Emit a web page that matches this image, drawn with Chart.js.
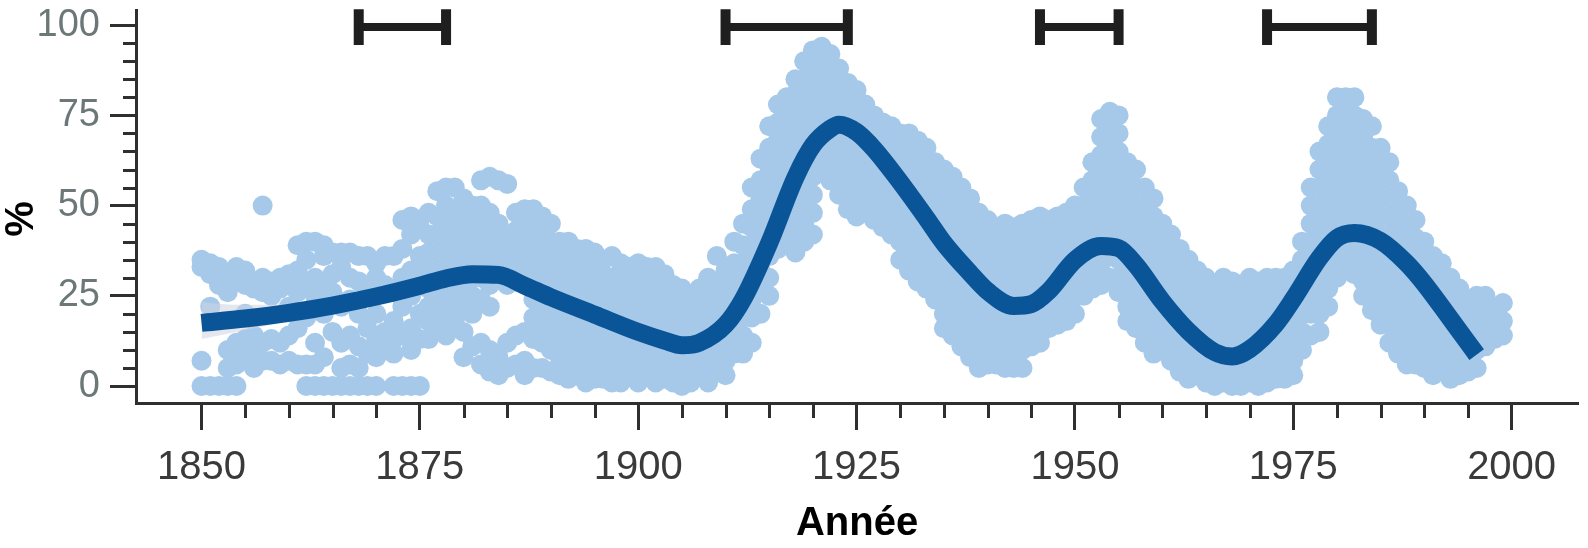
<!DOCTYPE html>
<html><head><meta charset="utf-8">
<script src="https://cdn.jsdelivr.net/npm/chart.js@4.4.1/dist/chart.umd.min.js"></script>
<style>html,body{margin:0;padding:0;background:#fff;}#wrap{width:1588px;height:548px;}</style>
</head><body><div id="wrap"><canvas id="c" width="1588" height="548"></canvas></div>
<script>
// ---- data ----
const xMajorTicks = [1850, 1875, 1900, 1925, 1950, 1975, 2000];
const yMajorTicks = [0, 25, 50, 75, 100];
const minorStep = 5;
const xTitle = 'Année';
const yTitle = '%';

const trendYears = [1850,1855,1860,1865,1870,1875,1878,1881,1884,1887,1890,1895,1900,1903,1905,1907,1910,1912,1915,1918,1920,1922,1923,1925,1927,1930,1933,1935,1938,1940,1943,1945,1947,1950,1953,1955,1957,1960,1963,1966,1968,1970,1973,1975,1978,1980,1982,1985,1988,1990,1993,1996];
const trendValues = [17.5,18.7,20.3,22.3,24.8,27.8,29.8,31,30.8,27.8,24.6,19.8,15,12.6,11.3,12,17,24,39.6,57.8,66.7,71.3,72.4,70.4,65.7,56.5,46.5,39.6,31.3,26.3,22.2,22.7,26.3,34.9,38.8,38.2,33.5,23.5,15.2,9.4,8.2,10.2,17.2,24.1,35.5,41,42.4,40.2,34,28.4,18.6,8.7];

const bandYears = [1850, 1852, 1854, 1857, 1860, 1863];
const bandLow = [13, 14, 15, 16.5, 18, 20];
const bandHigh = [23.3, 22.8, 22.5, 22.5, 22.8, 23.5];

const bracketStart = [1868, 1910, 1946, 1972];
const bracketEnd = [1878, 1924, 1955, 1984];
const bracketLevel = 99.5;
const bracketCapLow = 94.5;
const bracketCapHigh = 104.4;

// each row: [year, value, value, ...]
const cloud1850s = [
 [1850,35,33,7,0],[1851,34,31,22,0],[1852,33,28,0],[1853,31,26,10,5,0],[1854,33,29,12,6,0],
 [1855,32,28,20,13,8],[1856,29,27,14,10,5],[1857,50,30,26,12,7],[1858,29,25,13,7],[1859,30,27,12,6]];
const cloud1860s = [
 [1860,31,28,22,14,7],[1861,39,32,26,16,6],[1862,40,35,28,19,6,0],[1863,40,30,25,12,6,0],[1864,39,36,29,20,8,0],
 [1865,37,31,26,15,0],[1866,37,33,22,12,5,0],[1867,37,30,24,14,6,0],[1868,36,29,20,11,5,0],[1869,36,26,16,9,0]];
const cloud1870s = [
 [1870,34,30,20,13,8,0],[1871,36,28,15,10],[1872,36,26,18,13,9,0],[1873,46,38,30,22,14,0],[1874,47,42,32,25,16,10,0],
 [1875,44,36,28,20,13,0],[1876,48,42,37,32,27,22,18,13],[1877,54,47,42,37,32,27,22,16],[1878,55,50,45,40,35,30,25,20,14],[1879,55,48,43,38,33,28,23,18]];
const cloud1880s = [
 [1880,52,47,42,37,32,27,22,15,8],[1881,50,45,40,35,30,25,20,11],[1882,57,50,45,40,35,30,24,12,6],[1883,58,48,43,38,33,28,22,10,4],[1884,57,45,40,35,30,8,3],
 [1885,56,42,37,32,28,12,5],[1886,48,43,38,33,29,14,6],[1887,49,44,39,34,30,15,7,3],[1888,49,44,39,34,29,24,19,13,5],[1889,47,42,37,32,27,22,17,12,5]];
const cloud1890s = [
 [1890,45,40,35,30,25,20,15,10,4],[1891,40,36,31,26,21,16,11,6,3],[1892,40,35,30,25,20,15,10,5,2],[1893,38,33,28,23,18,13,8,3],[1894,38,34,29,24,19,14,9,4,1],
 [1895,37,32,27,22,17,12,7,2],[1896,35,31,26,21,16,11,6,2],[1897,36,30,25,20,15,10,5,1],[1898,34,29,24,19,14,9,4,1],[1899,33,28,23,18,13,8,3]];
const cloud1900s = [
 [1900,34,29,24,19,14,9,4,1],[1901,33,28,23,18,13,8,3],[1902,33,29,24,19,14,9,4,1],[1903,31,26,21,16,11,6,2],[1904,28,24,19,14,9,4,1],
 [1905,27,22,17,12,7,2,0],[1906,25,21,16,11,6,1],[1907,27,22,17,12,7,3],[1908,30,25,20,15,10,5,1],[1909,36,29,24,19,14,9,4]];
const cloud1910s = [
 [1910,32,27,22,17,12,7,3],[1911,40,34,29,24,19,14,9],[1912,45,39,34,29,24,19,14,9],[1913,55,49,44,39,34,29,24,19,12],[1914,63,57,52,47,42,37,32,27,20],
 [1915,72,66,61,56,51,46,41,36,30,25],[1916,78,73,68,63,58,53,48,43,38],[1917,80,75,70,65,60,55,50,45,40],[1918,85,81,76,71,66,61,56,51,46,41,37],[1919,90,85,80,75,70,65,60,55,50,45,40]];
const cloud1920s = [
 [1920,93,88,83,78,73,68,63,58,53,48,42],[1921,94,89,84,79,74,69,64,59],[1922,92,87,82,77,72,67,62,57],[1923,88,83,78,73,68,63,58,53],[1924,84,79,74,69,64,59,54,49],
 [1925,82,77,72,67,62,57,52,47],[1926,78,73,68,63,58,53,48],[1927,75,71,66,61,56,51,46],[1928,73,68,63,58,53,48,44],[1929,72,67,62,57,52,47,42]];
const cloud1930s = [
 [1930,70,65,60,55,50,45,40,35],[1931,70,66,61,56,51,46,41,36,32],[1932,68,63,58,53,48,43,38,33,29],[1933,66,61,56,51,46,41,36,31,27],[1934,62,58,53,48,43,38,33,28,24],
 [1935,60,55,50,45,40,35,30,25,20,16],[1936,58,53,48,43,38,33,28,23,18,14],[1937,55,51,46,41,36,31,26,21,16,11],[1938,52,47,42,37,32,27,22,17,12,8],[1939,48,44,39,34,29,24,19,14,9,5]];
const cloud1940s = [
 [1940,46,41,36,31,26,21,16,11,6],[1941,44,40,35,30,25,20,15,10,6],[1942,45,40,35,30,25,20,15,10,5],[1943,44,39,34,29,24,19,14,9,5],[1944,45,40,35,30,25,20,15,10,5],
 [1945,46,41,36,31,26,21,16,11],[1946,47,42,37,32,27,22,17,12],[1947,46,41,36,31,26,21,16],[1948,47,42,37,32,27,22,17],[1949,48,43,38,33,28,23,18]];
const cloud1950s = [
 [1950,50,45,40,35,30,25,20],[1951,55,50,45,40,35,30,25],[1952,62,57,52,47,42,37,32,27],[1953,74,69,64,59,54,49,44,39,34,28],[1954,76,71,66,61,56,51,46,41,36,30],
 [1955,75,70,65,60,55,50,45,40,35,30,26],[1956,62,57,52,47,42,37,32,27,22,18],[1957,60,55,50,45,40,35,30,25,20,16],[1958,55,50,45,40,35,30,25,20,15,12],[1959,52,47,42,37,32,27,22,17,12,9]];
const cloud1960s = [
 [1960,45,40,35,30,25,20,15,10],[1961,42,37,32,27,22,17,12,7],[1962,38,33,28,23,18,13,8,4],[1963,35,30,25,20,15,10,5,2],[1964,32,27,22,17,12,7,3],
 [1965,30,25,20,15,10,5,1],[1966,28,23,18,13,8,3,0],[1967,30,25,20,15,10,5,1],[1968,29,24,19,14,9,4,0],[1969,28,23,18,13,8,3,0]];
const cloud1970s = [
 [1970,30,25,20,15,10,5,1],[1971,29,24,19,14,9,4,0],[1972,30,25,20,15,10,5,1],[1973,30,26,21,16,11,6,2],[1974,30,25,20,15,10,5,2],
 [1975,32,27,22,17,12,7,3],[1976,40,35,30,25,20,15,10],[1977,55,50,45,40,35,30,25,20,14],[1978,65,60,55,50,45,40,35,30,25,20,15],[1979,72,67,62,57,52,47,42,37,32,27,22]];
const cloud1980s = [
 [1980,80,75,70,65,60,55,50,45,40,35,30],[1981,80,76,71,66,61,56,51,46,41,36,32],[1982,80,75,70,65,60,55,50,45,40,35,31],[1983,74,69,64,59,54,49,44,39,34,29,25],[1984,72,66,61,56,51,46,41,36,31,26,21],
 [1985,66,62,57,52,47,42,37,32,27,22,17],[1986,62,57,52,47,42,37,32,27,22,17,12],[1987,54,49,44,39,34,29,24,19,14,9],[1988,50,45,40,35,30,25,20,15,10,6],[1989,46,41,36,31,26,21,16,11,6]];
const cloud1990s = [
 [1990,40,35,30,25,20,15,10,5],[1991,36,31,26,21,16,11,6,3],[1992,34,29,24,19,14,9,4],[1993,30,25,20,15,10,5,2],[1994,27,22,17,12,7,3],
 [1995,24,19,14,9,4],[1996,25,20,15,10,5],[1997,25,20,15,11],[1998,22,17,13],[1999,23,18,14]];

// ---- build ----
const cloudRows = [].concat(cloud1850s, cloud1860s, cloud1870s, cloud1880s, cloud1890s, cloud1900s,
  cloud1910s, cloud1920s, cloud1930s, cloud1940s, cloud1950s, cloud1960s, cloud1970s, cloud1980s, cloud1990s);
const cloudPoints = [];
cloudRows.forEach(r => { for (let i = 1; i < r.length; i++) cloudPoints.push({x: r[0], y: r[i]}); });

const trendPoints = trendYears.map((yr, i) => ({x: yr, y: trendValues[i]}));
const bandLowPts = bandYears.map((yr, i) => ({x: yr, y: bandLow[i]}));
const bandHighPts = bandYears.map((yr, i) => ({x: yr, y: bandHigh[i]}));
const capPts = [], barPts = [];
bracketStart.forEach((s, i) => {
  const e = bracketEnd[i];
  capPts.push({x: s, y: bracketCapLow}, {x: s, y: bracketCapHigh}, {x: s, y: null},
              {x: e, y: bracketCapLow}, {x: e, y: bracketCapHigh}, {x: e, y: null});
  barPts.push({x: s, y: bracketLevel}, {x: e, y: bracketLevel}, {x: e, y: null});
});

const FONT = "'Liberation Sans', Arial, Helvetica, sans-serif";
const AXIS = '#2f2f2f';

const minorTicksPlugin = {
  id: 'minorTicks',
  afterDraw(chart) {
    const {ctx, chartArea, scales: {x, y}} = chart;
    ctx.save();
    ctx.strokeStyle = AXIS; ctx.lineWidth = 3; ctx.lineCap = 'butt';
    x.ticks.forEach(t => {
      if (xMajorTicks.includes(t.value)) return;
      const px = Math.round(x.getPixelForValue(t.value)) + 0.5;
      ctx.beginPath(); ctx.moveTo(px, chartArea.bottom); ctx.lineTo(px, chartArea.bottom + 15); ctx.stroke();
    });
    y.ticks.forEach(t => {
      if (yMajorTicks.includes(t.value)) return;
      const py = Math.round(y.getPixelForValue(t.value)) + 0.5;
      ctx.beginPath(); ctx.moveTo(chartArea.left, py); ctx.lineTo(chartArea.left - 13, py); ctx.stroke();
    });
    // y axis title
    ctx.fillStyle = '#000';
    ctx.font = 'bold 40px ' + FONT;
    ctx.textAlign = 'center'; ctx.textBaseline = 'middle';
    ctx.translate(22, 219); ctx.rotate(-Math.PI / 2);
    ctx.fillText(yTitle, 0, 0);
    ctx.restore();
  }
};

function stepTicks(majors) {
  return (scale) => {
    const t = [];
    for (let v = majors[0]; v <= majors[majors.length - 1]; v += minorStep) t.push({value: v});
    scale.ticks = t;
  };
}

new Chart(document.getElementById('c'), {
  type: 'scatter',
  data: {
    datasets: [
      {type: 'line', data: barPts, borderColor: '#1f1f1f', borderWidth: 8, pointRadius: 0, spanGaps: false, clip: false, order: 0, borderCapStyle: 'butt'},
      {type: 'line', data: capPts, borderColor: '#1f1f1f', borderWidth: 10, pointRadius: 0, spanGaps: false, clip: false, order: 0, borderCapStyle: 'butt'},
      {type: 'line', data: trendPoints, borderColor: '#0a5597', borderWidth: 18, pointRadius: 0, cubicInterpolationMode: 'monotone', borderCapStyle: 'butt', order: 1},
      {type: 'line', data: bandHighPts, borderWidth: 0, pointRadius: 0, fill: 4, backgroundColor: 'rgba(205,212,222,0.55)', cubicInterpolationMode: 'monotone', order: 2},
      {type: 'line', data: bandLowPts, borderWidth: 0, pointRadius: 0, fill: false, cubicInterpolationMode: 'monotone', order: 2},
      {data: cloudPoints, backgroundColor: '#a6c9ea', borderWidth: 0, pointRadius: 10, pointHoverRadius: 10, order: 5}
    ]
  },
  options: {
    responsive: false,
    animation: false,
    devicePixelRatio: 1,
    layout: {padding: {left: 0, right: 6, top: 10, bottom: 0}},
    plugins: {legend: {display: false}, tooltip: {enabled: false}},
    scales: {
      x: {
        type: 'linear', min: 1842.5, max: 2007.6,
        afterBuildTicks: stepTicks(xMajorTicks),
        afterFit: (s) => { s.height = 145; s.paddingLeft = 0; s.paddingRight = 0; },
        border: {display: true, color: AXIS, width: 3},
        grid: {display: true, drawOnChartArea: false, drawTicks: true, tickLength: 27, tickWidth: 3,
               tickColor: (c) => xMajorTicks.includes(c.tick.value) ? AXIS : 'rgba(0,0,0,0)'},
        ticks: {autoSkip: false, maxRotation: 0, padding: 14, color: '#3a3a3a',
                font: {family: FONT, size: 40},
                callback: (v) => xMajorTicks.includes(v) ? String(v) : ''},
        title: {display: true, text: xTitle, color: '#000', font: {family: FONT, size: 40, weight: 'bold'}, padding: {top: 0, bottom: 0}}
      },
      y: {
        type: 'linear', min: -4.7, max: 104.2,
        afterBuildTicks: stepTicks(yMajorTicks),
        afterFit: (s) => { s.width = 136; s.paddingTop = 0; s.paddingBottom = 0; },
        border: {display: true, color: AXIS, width: 3},
        grid: {display: true, drawOnChartArea: false, drawTicks: true, tickLength: 26, tickWidth: 3,
               tickColor: (c) => yMajorTicks.includes(c.tick.value) ? AXIS : 'rgba(0,0,0,0)'},
        ticks: {autoSkip: false, padding: 10, color: '#6c7878',
                font: {family: FONT, size: 38},
                callback: (v) => yMajorTicks.includes(v) ? String(v) : ''}
      }
    }
  },
  plugins: [minorTicksPlugin]
});
</script></body></html>
